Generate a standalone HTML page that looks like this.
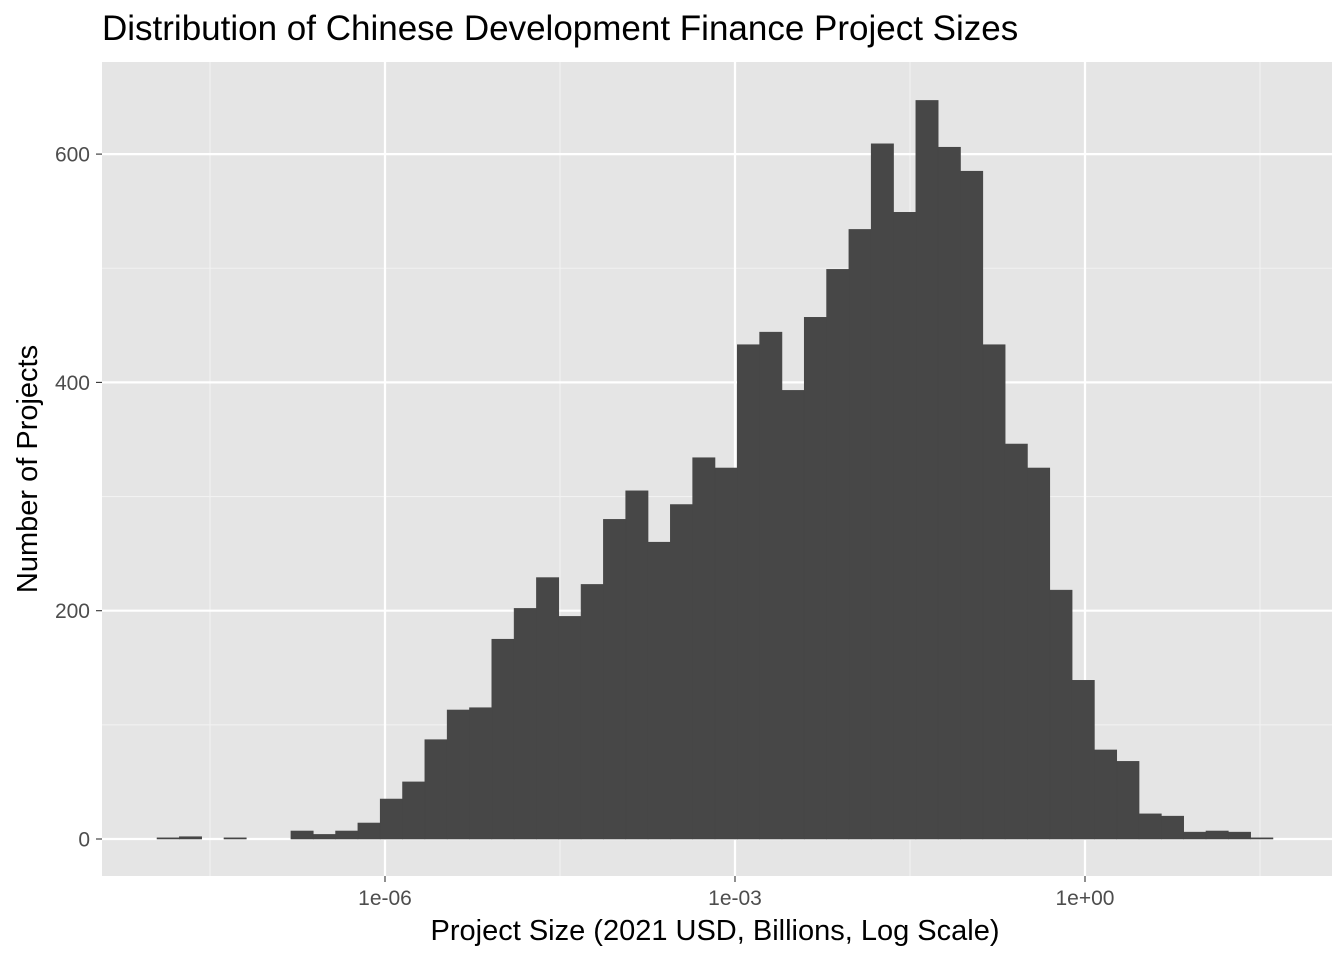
<!DOCTYPE html>
<html><head><meta charset="utf-8"><style>
body{margin:0;background:#fff;}
svg{display:block;font-family:"Liberation Sans",Arial,sans-serif;}
</style></head><body>
<svg id="chart" width="1344" height="960">
<text x="102" y="40" font-size="35" fill="#000">Distribution of Chinese Development Finance Project Sizes</text>
<rect x="102" y="62" width="1230" height="814" fill="#e5e5e5"/>
<g id="grid"></g>
<g id="bars"></g>
<g id="axes"></g>
<text x="715" y="940" font-size="29" text-anchor="middle" fill="#000">Project Size (2021 USD, Billions, Log Scale)</text>
<text transform="translate(37,469) rotate(-90)" font-size="29" text-anchor="middle" fill="#000">Number of Projects</text>
</svg>
<script>
const counts=[1,2,0,1,0,0,7,4,7,14,35,50,87,113,115,175,202,229,195,223,280,305,260,293,334,325,433,444,393,457,499,534,609,549,647,606,585,433,346,325,218,139,78,68,22,20,6,7,6,1];
const binStartLog=-7.954;
const binWidthLog=0.1913;
const yTicks=[0,200,400,600];
const yMinor=[100,300,500];
const xTicksLog=[-6,-3,0];
const xTickLabels=["1e-06","1e-03","1e+00"];
const xMinorLog=[-7.5,-4.5,-1.5,1.5];
const NS="http://www.w3.org/2000/svg";
const X=l=>385+(l+6)*116.667;
const Y=v=>839-v*1.1415;
function mk(t,a,p){const e=document.createElementNS(NS,t);for(const k in a)e.setAttribute(k,a[k]);p.appendChild(e);return e;}
const grid=document.getElementById('grid'),bars=document.getElementById('bars'),axes=document.getElementById('axes');
yMinor.forEach(v=>{const e=mk('line',{x1:102,x2:1332,y1:Y(v),y2:Y(v),stroke:'#f2f2f2','stroke-width':1.1},grid);

});
xMinorLog.forEach(v=>{const e=mk('line',{x1:X(v),x2:X(v),y1:62,y2:876,stroke:'#f2f2f2','stroke-width':1.1},grid);

});
yTicks.forEach(v=>{const e=mk('line',{x1:102,x2:1332,y1:Y(v),y2:Y(v),stroke:'#fff','stroke-width':2.2},grid);


const t=mk('line',{x1:96,x2:102,y1:Y(v),y2:Y(v),stroke:'#333','stroke-width':1.1},axes);


const l=mk('text',{x:90,y:Y(v)+7.5,'font-size':21,fill:'#4d4d4d','text-anchor':'end'},axes);l.textContent=v;

});
xTicksLog.forEach((v,i)=>{const e=mk('line',{x1:X(v),x2:X(v),y1:62,y2:876,stroke:'#fff','stroke-width':2.2},grid);


const t=mk('line',{x1:X(v),x2:X(v),y1:876,y2:882,stroke:'#333','stroke-width':1.1},axes);


const l=mk('text',{x:X(v),y:905,'font-size':21,fill:'#4d4d4d','text-anchor':'middle'},axes);l.textContent=xTickLabels[i];

});
counts.forEach((c,i)=>{const x0=X(binStartLog+i*binWidthLog),x1=X(binStartLog+(i+1)*binWidthLog);
const r=mk('rect',{x:x0,y:Y(c),width:x1-x0,height:Y(0)-Y(c),fill:'#474747',stroke:'#474747','stroke-width':0.6},bars);

});
</script>
</body></html>
